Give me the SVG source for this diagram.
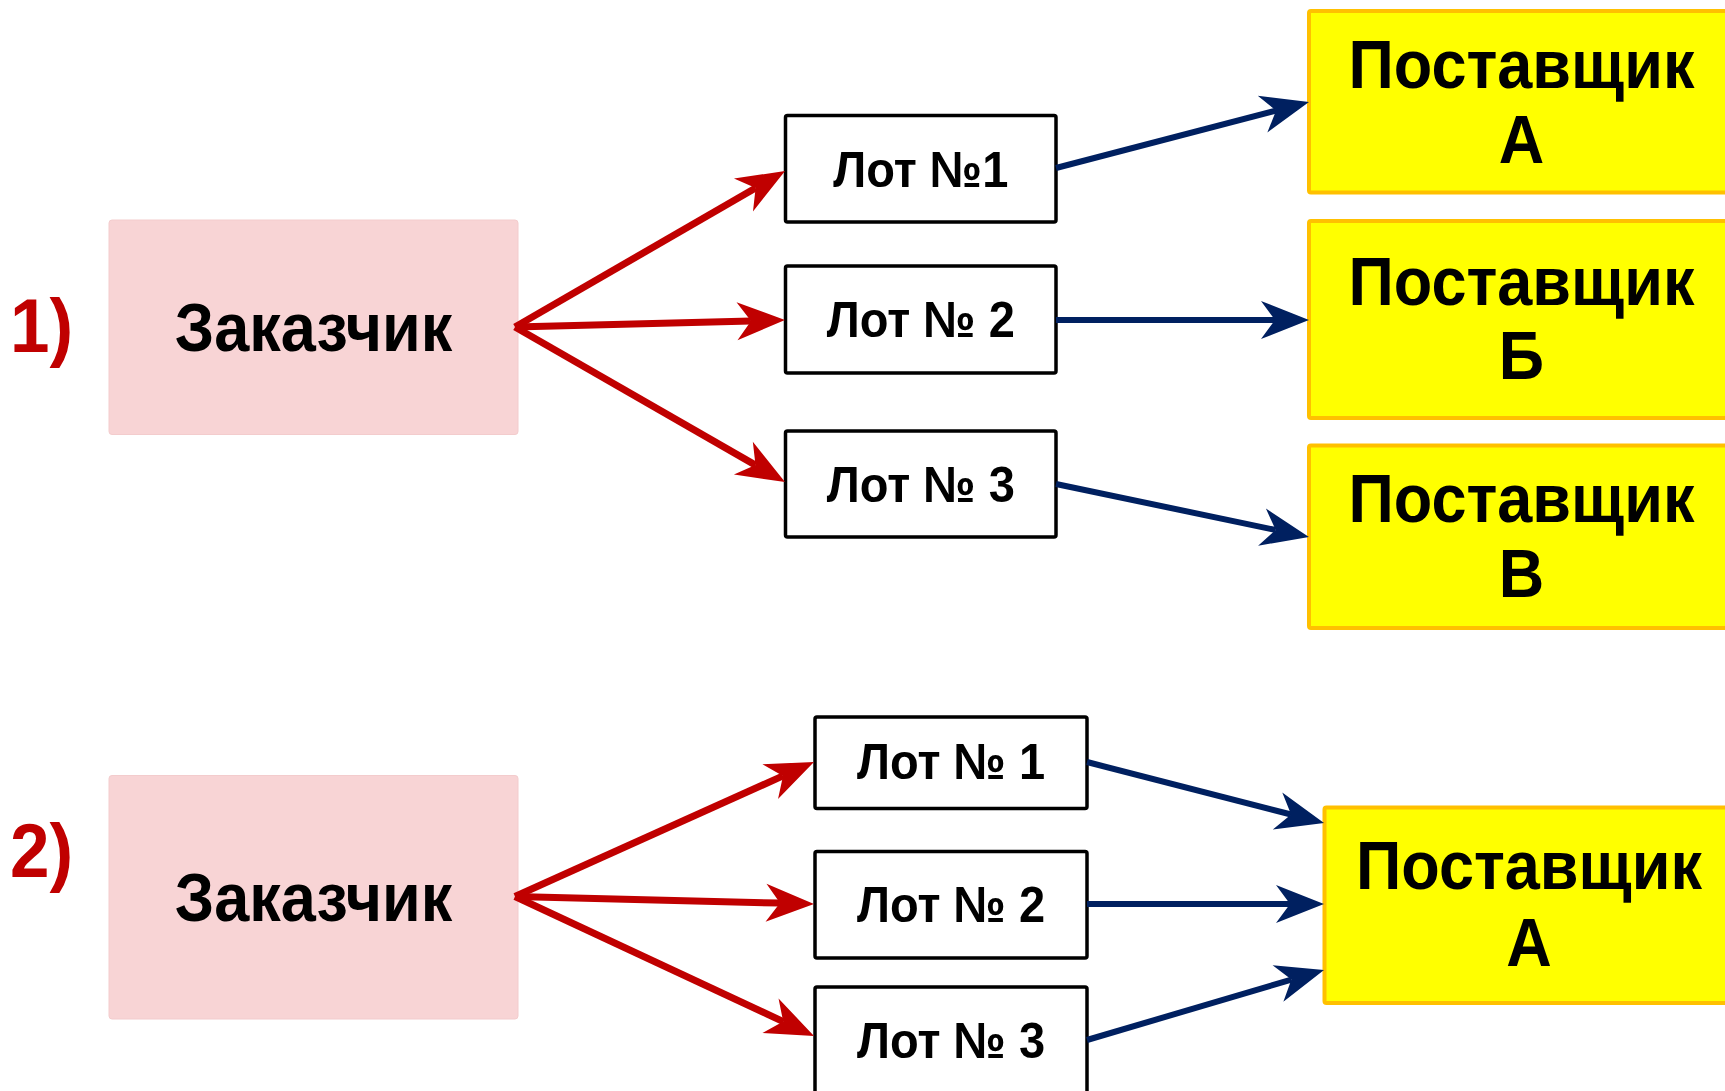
<svg xmlns="http://www.w3.org/2000/svg" width="1725" height="1091" viewBox="0 0 1725 1091">
<style>
  text { font-family: "Liberation Sans", Arial, sans-serif; font-weight: bold; text-anchor: middle; fill: #000; }
  .num { fill: #C00000; font-size: 71px; text-anchor: start; }
  .big { font-size: 63px; }
  .lot { font-size: 47px; }
  .pink { fill: #F8D4D5; stroke: #F3CCCD; stroke-width: 1; }
  .lotbox { fill: #fff; stroke: #000; stroke-width: 3.5; }
  .sup { fill: #FFFF00; stroke: #FFC000; stroke-width: 4; }
  .red { stroke: #C00000; stroke-width: 7; fill: none; marker-end: url(#ahRed); }
  .blue { stroke: #002060; stroke-width: 6; fill: none; marker-end: url(#ahBlue); }
</style>
<defs>
  <marker id="ahRed" markerUnits="userSpaceOnUse" orient="auto" refX="14" refY="0" markerWidth="50" markerHeight="40" overflow="visible">
    <path d="M0,-19 L48,0 L0,19 L14,0 Z" fill="#C00000"/>
  </marker>
  <marker id="ahBlue" markerUnits="userSpaceOnUse" orient="auto" refX="14" refY="0" markerWidth="50" markerHeight="40" overflow="visible">
    <path d="M0,-19 L48,0 L0,19 L14,0 Z" fill="#002060"/>
  </marker>
</defs>
<rect width="1725" height="1091" fill="#fff"/>

<g id="label1"><text class="num" x="10" y="352" transform="matrix(1 0 0 1.08 0 -28.16)">1)</text></g>
<g id="label2"><text class="num" x="10" y="877" transform="matrix(1 0 0 1.08 0 -70.16)">2)</text></g>

<g id="customer1">
  <rect class="pink" x="109" y="220" width="409" height="214.5" rx="3"/>
  <text class="big" x="313.5" y="351" transform="matrix(1 0 0 1.08 0 -28.08)">Заказчик</text>
</g>
<g id="lot1-1">
  <rect class="lotbox" x="785.5" y="115.5" width="270.5" height="106.5" rx="2"/>
  <text class="lot" x="920.75" y="187" transform="matrix(1 0 0 1.08 0 -14.96)">Лот №1</text>
</g>
<g id="lot1-2">
  <rect class="lotbox" x="785.5" y="266" width="270.5" height="107" rx="2"/>
  <text class="lot" x="920.75" y="337" transform="matrix(1 0 0 1.08 0 -26.96)">Лот № 2</text>
</g>
<g id="lot1-3">
  <rect class="lotbox" x="785.5" y="431" width="270.5" height="106" rx="2"/>
  <text class="lot" x="920.75" y="502" transform="matrix(1 0 0 1.08 0 -40.16)">Лот № 3</text>
</g>
<g id="supA1">
  <rect class="sup" x="1309" y="11" width="440" height="181.5" rx="2"/>
  <text class="big" x="1521.5" y="88" transform="matrix(1 0 0 1.08 0 -7.04)">Поставщик</text>
  <text class="big" x="1521.5" y="163" transform="matrix(1 0 0 1.08 0 -13.04)">А</text>
</g>
<g id="supB1">
  <rect class="sup" x="1309" y="221" width="440" height="197" rx="2"/>
  <text class="big" x="1521.5" y="305" transform="matrix(1 0 0 1.08 0 -24.4)">Поставщик</text>
  <text class="big" x="1521.5" y="379.5" transform="matrix(1 0 0 1.08 0 -30.36)">Б</text>
</g>
<g id="supV1">
  <rect class="sup" x="1309" y="445.5" width="440" height="182.5" rx="2"/>
  <text class="big" x="1521.5" y="522.5" transform="matrix(1 0 0 1.08 0 -41.8)">Поставщик</text>
  <text class="big" x="1521.5" y="597" transform="matrix(1 0 0 1.08 0 -47.76)">В</text>
</g>

<g id="customer2">
  <rect class="pink" x="109" y="775.5" width="409" height="243.5" rx="3"/>
  <text class="big" x="313.5" y="921" transform="matrix(1 0 0 1.08 0 -73.68)">Заказчик</text>
</g>
<g id="lot2-1">
  <rect class="lotbox" x="815" y="717" width="272" height="91.5" rx="2"/>
  <text class="lot" x="951" y="779" transform="matrix(1 0 0 1.08 0 -62.32)">Лот № 1</text>
</g>
<g id="lot2-2">
  <rect class="lotbox" x="815" y="851.5" width="272" height="106.5" rx="2"/>
  <text class="lot" x="951" y="922" transform="matrix(1 0 0 1.08 0 -73.76)">Лот № 2</text>
</g>
<g id="lot2-3">
  <rect class="lotbox" x="815" y="987" width="272" height="115" rx="2"/>
  <text class="lot" x="951" y="1058" transform="matrix(1 0 0 1.08 0 -84.64)">Лот № 3</text>
</g>
<g id="supA2">
  <rect class="sup" x="1324.5" y="807.5" width="430" height="195.5" rx="2"/>
  <text class="big" x="1529" y="889" transform="matrix(1 0 0 1.08 0 -71.12)">Поставщик</text>
  <text class="big" x="1529" y="966" transform="matrix(1 0 0 1.08 0 -77.28)">А</text>
</g>

<g id="connectors">
  <line class="red" x1="515" y1="327" x2="755.6" y2="188"/>
  <line class="red" x1="515" y1="327" x2="751" y2="320.9"/>
  <line class="red" x1="515" y1="327" x2="755.5" y2="465.1"/>
  <line class="blue" x1="1056" y1="168" x2="1276.1" y2="110.6"/>
  <line class="blue" x1="1056" y1="320" x2="1275" y2="320"/>
  <line class="blue" x1="1056" y1="484" x2="1275.7" y2="530"/>
  <line class="red" x1="515" y1="896.5" x2="783" y2="775.9"/>
  <line class="red" x1="515" y1="896.5" x2="780" y2="903.1"/>
  <line class="red" x1="515" y1="896.5" x2="783.2" y2="1021.6"/>
  <line class="blue" x1="1087" y1="762" x2="1291.1" y2="814.5"/>
  <line class="blue" x1="1087" y1="904" x2="1290" y2="904"/>
  <line class="blue" x1="1087" y1="1040" x2="1291.4" y2="979.6"/>
</g>
</svg>
